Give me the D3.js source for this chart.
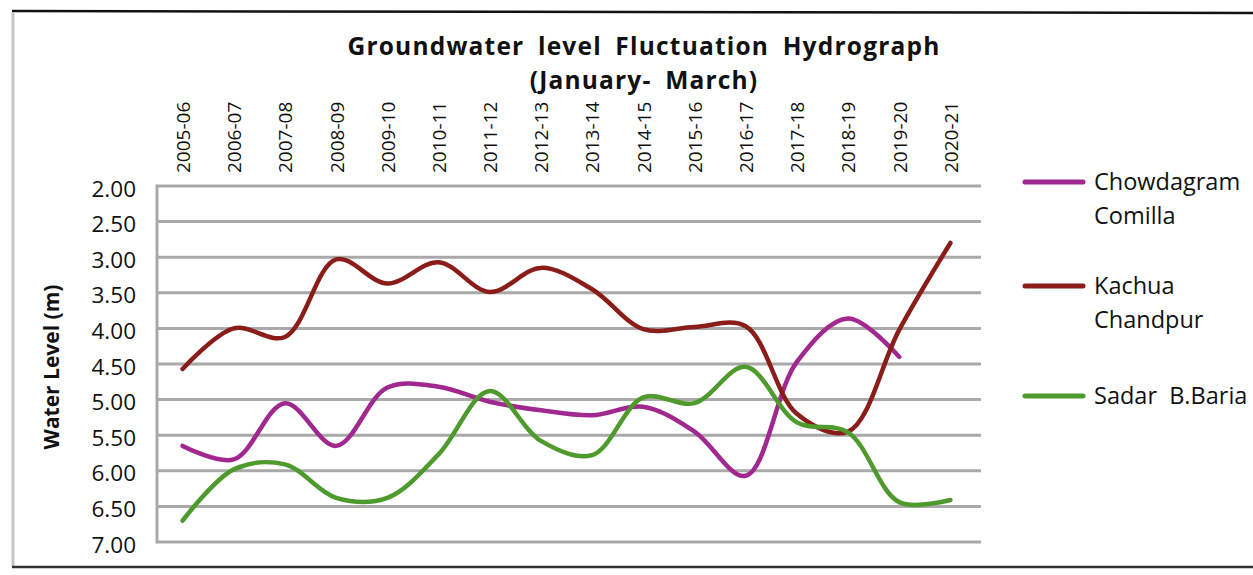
<!DOCTYPE html>
<html>
<head>
<meta charset="utf-8">
<script src="https://cdn.jsdelivr.net/npm/d3@7"></script>
<style>
  body { margin: 0; background: #fff; }
  svg text { font-family: "Open Sans", "DejaVu Sans", sans-serif; fill: #111; }
</style>
</head>
<body>
<div id="chart"></div>
<script>
// data (water level below ground, m)
const years = ["2005-06", "2006-07", "2007-08", "2008-09", "2009-10", "2010-11", "2011-12", "2012-13",
  "2013-14", "2014-15", "2015-16", "2016-17", "2017-18", "2018-19", "2019-20", "2020-21"];
const chowdagram = [5.65, 5.84, 5.05, 5.65, 4.83, 4.82, 5.03, 5.15, 5.22, 5.10, 5.45, 6.07, 4.47, 3.86, 4.40, null];
const kachua = [4.57, 4.00, 4.12, 3.03, 3.37, 3.07, 3.49, 3.15, 3.45, 4.01, 3.98, 3.97, 5.20, 5.45, 4.02, 2.80];
const sadar = [6.70, 5.98, 5.91, 6.38, 6.38, 5.77, 4.88, 5.58, 5.78, 4.97, 5.05, 4.54, 5.32, 5.46, 6.44, 6.41];
const yTicks = [2.0, 2.5, 3.0, 3.5, 4.0, 4.5, 5.0, 5.5, 6.0, 6.5, 7.0];

const seriesList = [
  { lines: ["Chowdagram", "Comilla"], values: chowdagram, color: "#a0288e" },
  { lines: ["Kachua", "Chandpur"], values: kachua, color: "#8a1d19" },
  { lines: ["Sadar  B.Baria"], values: sadar, color: "#4e9a2c" },
];

const width = 1253, height = 575;
const plot = { left: 157, right: 981, top: 186, bottom: 542 };

const svg = d3.select("#chart").append("svg")
  .attr("width", width)
  .attr("height", height);

// frame of the scanned chart
svg.append("line").attr("x1", 12).attr("x2", 1253).attr("y1", 11).attr("y2", 13)
  .attr("stroke", "#111").attr("stroke-width", 2.5);
svg.append("line").attr("x1", 13).attr("x2", 13).attr("y1", 12).attr("y2", 566)
  .attr("stroke", "#c4c4c4").attr("stroke-width", 3);
svg.append("line").attr("x1", 12).attr("x2", 1253).attr("y1", 567).attr("y2", 567)
  .attr("stroke", "#333").attr("stroke-width", 2.5);

const x = d3.scalePoint().domain(years).range([plot.left, 976]).padding(0.5);
const y = d3.scaleLinear().domain([2, 7]).range([plot.top, plot.bottom]);

// gridlines
svg.append("g")
  .selectAll("line")
  .data(yTicks)
  .join("line")
  .attr("x1", plot.left)
  .attr("x2", plot.right)
  .attr("y1", d => y(d))
  .attr("y2", d => y(d))
  .attr("stroke", "#a9a9a9")
  .attr("stroke-width", 3);

svg.append("line")
  .attr("x1", plot.left).attr("x2", plot.left)
  .attr("y1", plot.top - 1.5).attr("y2", plot.bottom + 1.5)
  .attr("stroke", "#a9a9a9").attr("stroke-width", 3);

// y axis
const yAxis = svg.append("g")
  .attr("transform", `translate(${plot.left},0)`)
  .call(d3.axisLeft(y).tickValues(yTicks).tickFormat(d3.format(".2f")).tickSize(0).tickPadding(21));
yAxis.select(".domain").remove();
yAxis.selectAll("text")
  .attr("dy", "0.45em")
  .style("font-size", "22.5px")
  .style("font-family", "'Open Sans', sans-serif")
  .attr("fill", "#111");

// x axis, labels rotated above the plot
const xAxis = svg.append("g")
  .attr("transform", `translate(0,${plot.top})`)
  .call(d3.axisTop(x).tickSize(0));
xAxis.select(".domain").remove();
xAxis.selectAll("text")
  .attr("transform", "rotate(-90)")
  .attr("text-anchor", "start")
  .attr("x", 13)
  .attr("y", 0)
  .attr("dy", "0.36em")
  .style("font-size", "19px")
  .style("font-family", "'Open Sans', sans-serif")
  .attr("fill", "#111");

// smoothed lines like the spreadsheet
const line = d3.line()
  .defined(d => d[1] != null)
  .x(d => x(d[0]))
  .y(d => y(d[1]))
  .curve(d3.curveCatmullRom.alpha(0.5));

svg.append("g")
  .selectAll("path")
  .data(seriesList)
  .join("path")
  .attr("fill", "none")
  .attr("stroke", d => d.color)
  .attr("stroke-width", 4.5)
  .attr("stroke-linecap", "round")
  .attr("d", d => line(years.map((yr, i) => [yr, d.values[i]])));

// titles
svg.append("text")
  .attr("x", 644).attr("y", 55)
  .attr("text-anchor", "middle")
  .style("font-size", "24.5px").style("font-weight", "bold")
  .style("letter-spacing", "1.2px").style("word-spacing", "6px")
  .text("Groundwater level Fluctuation Hydrograph");
svg.append("text")
  .attr("x", 644).attr("y", 89)
  .attr("text-anchor", "middle")
  .style("font-size", "24.5px").style("font-weight", "bold")
  .style("letter-spacing", "1.2px").style("word-spacing", "6px")
  .text("(January- March)");

svg.append("text")
  .attr("transform", "translate(59,367) rotate(-90)")
  .attr("text-anchor", "middle")
  .style("font-size", "21px").style("font-weight", "bold")
  .text("Water Level (m)");

// legend
const legendY = [182, 286, 396];
const legend = svg.append("g")
  .selectAll("g")
  .data(seriesList)
  .join("g")
  .attr("transform", (d, i) => `translate(1025,${legendY[i]})`);

legend.append("line")
  .attr("x1", 0).attr("x2", 58)
  .attr("stroke", d => d.color)
  .attr("stroke-width", 5)
  .attr("stroke-linecap", "round");

legend.append("text")
  .attr("x", 69)
  .style("font-size", "23.5px")
  .selectAll("tspan")
  .data(d => d.lines)
  .join("tspan")
  .attr("x", 69)
  .attr("y", (d, i) => i * 34)
  .attr("dy", "0.36em")
  .style("white-space", "pre")
  .text(d => d);
</script>
</body>
</html>
